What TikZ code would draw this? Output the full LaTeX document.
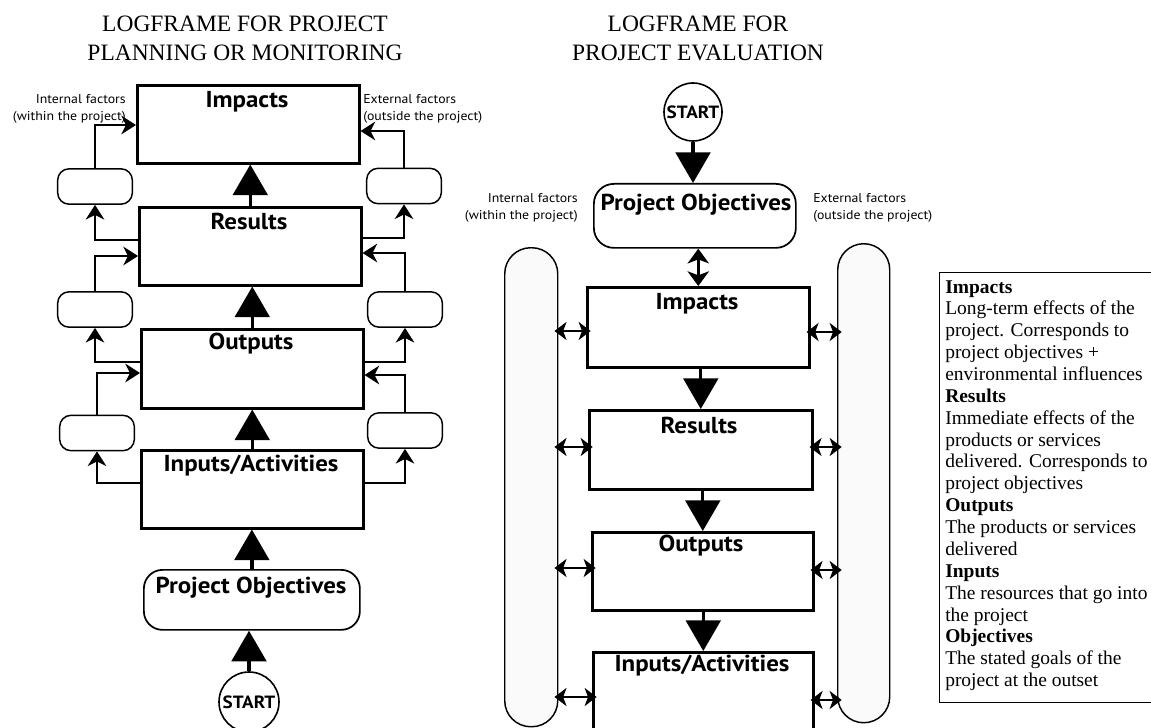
\documentclass[tikz,border=0pt]{standalone}
\usepackage{fontspec}
\setmainfont{Liberation Serif}
\newfontfamily\ptsans{PT Sans}[FakeStretch=1.08]
\usetikzlibrary{arrows.meta,calc}
\begin{document}
\begin{tikzpicture}[x=0.75pt,y=-0.75pt,
  sz/.style 2 args={minimum width=#1*0.75pt, minimum height=#2*0.75pt},
  box/.style={draw, line width=1.9pt, inner sep=0pt, anchor=north west},
  pill/.style={draw, line width=1.3pt, inner sep=0pt, anchor=north west, rounded corners=14pt},
  capsule/.style={draw, line width=1.1pt, inner sep=0pt, rounded corners=8.5pt, minimum width=56pt, minimum height=26.5pt},
  longcap/.style={draw, line width=1.1pt, inner sep=0pt, anchor=north west, rounded corners=19.5pt, fill=black!2},
  startc/.style={draw, circle, line width=1.2pt, inner sep=0pt, minimum size=#1*1.5pt, font=\ptsans\bfseries\fontsize{13.3}{15}\selectfont},
  lab/.style={anchor=base, inner sep=0pt, font=\ptsans\bfseries\fontsize{17.3}{19}\selectfont},
  small/.style={inner sep=0pt, font=\ptsans\fontsize{9.6}{12.75}\selectfont},
  ttl/.style={anchor=north, inner sep=0pt, align=center, font=\fontsize{17.6}{21.75}\selectfont},
  bigarrow/.style={line width=2.5pt, -{Triangle[length=23pt, width=26pt]}},
  conn/.style={line width=1.6pt, -{Stealth[length=11pt, width=14pt, inset=3.5pt]}},
  dbl/.style={line width=1.7pt, shorten <=-3pt, shorten >=-3.5pt, {Stealth[length=9pt, width=13.5pt, inset=2.5pt]}-{Stealth[length=9pt, width=13.5pt, inset=2.5pt]}},
  vdbl/.style={line width=2pt, {Stealth[length=11pt, width=16pt, inset=3pt]}-{Stealth[length=11pt, width=16pt, inset=3pt]}}
]
\useasboundingbox (0,0) rectangle (1151,727);
\clip (0,0) rectangle (1151,727);

% ---------------- titles
\node[ttl] (title1) at (245,16) {LOGFRAME FOR PROJECT\\PLANNING OR MONITORING};
\node[ttl] (title2) at (698,16) {LOGFRAME FOR\\PROJECT EVALUATION};

% ---------------- left panel
\node[box, sz={222}{78}] (imp) at (136,84) {};
\node[box, sz={222}{78}] (res) at (138,206) {};
\node[box, sz={222}{79}] (out) at (140,328) {};
\node[box, sz={222}{78}] (inp) at (140,449) {};
\node[pill, sz={216}{60}] (po) at (143,569) {};
\node[startc=30] (start) at (249,702) {START};

\node[lab] (impt) at (247,108) {Impacts};
\node[lab] (rest) at (249,229) {Results};
\node[lab] (outt) at (251,349) {Outputs};
\node[lab] (inpt) at (251,471) {Inputs/Activities};
\node[lab] (pot) at (251,593) {Project Objectives};

\node[small, anchor=east, align=right] (intl) at (126,109) {Internal factors\\(within the project)};
\node[small, anchor=west, align=left] (extl) at (363,109) {External factors\\(outside the project)};

\node[capsule] (cl1) at (95,186.5) {};
\node[capsule] (cl2) at (95,309.5) {};
\node[capsule] (cl3) at (97,433) {};
\node[capsule] (cr1) at (404,186) {};
\node[capsule] (cr2) at (405,309.5) {};
\node[capsule] (cr3) at (405,430.5) {};

\draw[bigarrow] (res.north) -- (res.north |- imp.south);
\draw[bigarrow] (out.north) -- (out.north |- res.south);
\draw[bigarrow] (inp.north) -- (inp.north |- out.south);
\draw[bigarrow] (po.north) -- (po.north |- inp.south);
\draw[bigarrow] (start.north) -- (start.north |- po.south);

% left side connectors
\draw[conn] ($(res.north west)+(0,34)$) -| (cl1.south);
\draw[conn] (cl1.north) |- ($(imp.north west)+(0,41)$);
\draw[conn] ($(out.north west)+(0,34)$) -| (cl2.south);
\draw[conn] (cl2.north) |- ($(res.north west)+(0,50)$);
\draw[conn] ($(inp.north west)+(0,34)$) -| (cl3.south);
\draw[conn] (cl3.north) |- ($(out.north west)+(0,45)$);
% right side connectors
\draw[conn] ($(res.north east)+(0,32)$) -| (cr1.south);
\draw[conn] (cr1.north) |- ($(imp.north east)+(0,47)$);
\draw[conn] ($(out.north east)+(0,34)$) -| (cr2.south);
\draw[conn] (cr2.north) |- ($(res.north east)+(0,47)$);
\draw[conn] ($(inp.north east)+(0,34)$) -| (cr3.south);
\draw[conn] (cr3.north) |- ($(out.north east)+(0,47)$);

% ---------------- middle panel
\node[startc=29] (start2) at (693,112) {START};
\node[pill, rounded corners=15pt, sz={202}{64}] (po2) at (593,183) {};
\node[box, sz={222}{80}] (imp2) at (586,286) {};
\node[box, sz={223}{79}] (res2) at (588,409) {};
\node[box, sz={221}{78}] (out2) at (591,531) {};
\node[box, sz={220}{130}] (inp2) at (592,651) {};
\node[longcap, sz={53}{479}] (capL) at (504,247) {};
\node[longcap, sz={52}{479}] (capR) at (837,243) {};

\node[lab] (po2t) at (696,210) {Project Objectives};
\node[lab] (imp2t) at (697,309) {Impacts};
\node[lab] (res2t) at (699,433) {Results};
\node[lab] (out2t) at (701,551) {Outputs};
\node[lab] (inp2t) at (702,671) {Inputs/Activities};

\node[small, anchor=east, align=right] (intm) at (578,208) {Internal factors\\(within the project)};
\node[small, anchor=west, align=left] (extm) at (813,208) {External factors\\(outside the project)};

\draw[bigarrow] (start2.south) -- (start2.south |- po2.north);
\draw[vdbl] (imp2.north |- po2.south) -- (imp2.north);
\draw[bigarrow] (res2.north |- imp2.south) -- (res2.north);
\draw[bigarrow] (out2.north |- res2.south) -- (out2.north);
\draw[bigarrow] (inp2.north |- out2.south) -- (inp2.north);

\coordinate (a1) at ($(imp2.north west)+(0,45)$);
\coordinate (a2) at ($(res2.north west)+(0,38)$);
\coordinate (a3) at ($(out2.north west)+(0,37)$);
\coordinate (a4) at ($(inp2.north west)+(0,46)$);
\coordinate (b1) at ($(imp2.north east)+(0,46)$);
\coordinate (b2) at ($(res2.north east)+(0,38)$);
\coordinate (b3) at ($(out2.north east)+(0,39)$);
\coordinate (b4) at ($(inp2.north east)+(0,49)$);
\foreach \c in {a1,a2,a3,a4} \draw[dbl] (capL.east |- \c) -- (\c);
\foreach \c in {b1,b2,b3,b4} \draw[dbl] (\c) -- (capR.west |- \c);

% ---------------- legend
\node[draw, line width=1pt, anchor=north west, inner sep=0pt, sz={260}{430}] (leg) at (939,272) {};
\node[anchor=north west, inner sep=0pt, align=left, font=\fontsize{14.6}{16.4}\selectfont] (legtxt) at (945,280)
{\textbf{Impacts}\\
Long-term effects of the\\
project. Corresponds to\\
project objectives +\\
environmental influences\\
\textbf{Results}\\
Immediate effects of the\\
products or services\\
delivered. Corresponds to\\
project objectives\\
\textbf{Outputs}\\
The products or services\\
delivered\\
\textbf{Inputs}\\
The resources that go into\\
the project\\
\textbf{Objectives}\\
The stated goals of the\\
project at the outset};
\end{tikzpicture}
\end{document}
